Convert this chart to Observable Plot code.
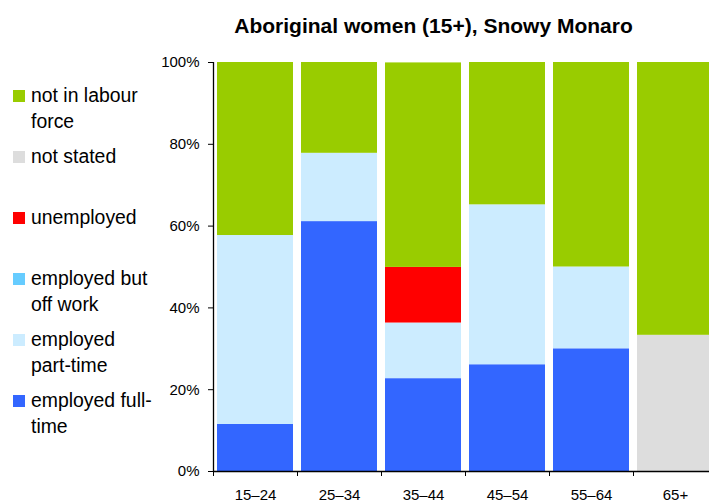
<!DOCTYPE html>
<html>
<head>
<meta charset="utf-8">
<script src="https://cdn.jsdelivr.net/npm/d3@7"></script>
<script src="https://cdn.jsdelivr.net/npm/@observablehq/plot@0.6"></script>
<style>
  html, body { margin: 0; padding: 0; background: #fff; }
  #wrap { position: relative; width: 709px; height: 504px; overflow: hidden; font-family: "Liberation Sans", Arial, sans-serif; color: #000; }
  #title { position: absolute; left: 158px; width: 551px; top: 15px; text-align: center; font-weight: bold; font-size: 21px; line-height: 21px; white-space: nowrap; }
  #chart { position: absolute; left: 0; top: 0; }
  #legend { position: absolute; left: 0; top: 82px; width: 180px; }
  .item { position: relative; height: 61px; }
  .sw { position: absolute; left: 13px; top: 7.5px; width: 12px; height: 12px; }
  .lab { position: absolute; left: 31px; top: 0; font-size: 19.4px; line-height: 26px; white-space: nowrap; }
</style>
</head>
<body>
<div id="wrap">
  <div id="chart"></div>
  <div id="title"></div>
  <div id="legend"></div>
</div>
<script>
const title = "Aboriginal women (15+), Snowy Monaro";
const ages = ["15–24", "25–34", "35–44", "45–54", "55–64", "65+"];
const yTicks = [0, 20, 40, 60, 80, 100];

// series (bottom to top), values in percent
const series = ["employed full-time", "employed part-time", "employed but off work", "unemployed", "not stated", "not in labour force"];
const colors = ["#3366FF", "#CCECFF", "#66CCFF", "#FF0000", "#DDDDDD", "#99CC00"];
const employedFullTime   = [11.5, 61.1, 22.7, 26.1, 30.0, 0];
const employedPartTime   = [46.2, 16.7, 13.6, 39.1, 20.0, 0];
const employedOffWork    = [0, 0, 0, 0, 0, 0];
const unemployed         = [0, 0, 13.6, 0, 0, 0];
const notStated          = [0, 0, 0, 0, 0, 33.3];
const notInLabourForce   = [42.3, 22.2, 50.0, 34.8, 50.0, 66.7];

// legend order (top to bottom) with line breaks as in the original
const legendItems = [
  ["not in labour force", ["not in labour", "force"]],
  ["not stated", ["not stated"]],
  ["unemployed", ["unemployed"]],
  ["employed but off work", ["employed but", "off work"]],
  ["employed part-time", ["employed", "part-time"]],
  ["employed full-time", ["employed full-", "time"]]
];

const valuesBySeries = [employedFullTime, employedPartTime, employedOffWork, unemployed, notStated, notInLabourForce];
const data = [];
series.forEach((s, i) => {
  ages.forEach((a, j) => {
    const v = valuesBySeries[i][j];
    if (v > 0) data.push({age: a, series: s, value: v});
  });
});

const step = (717 - 213) / ages.length;

const plot = Plot.plot({
  width: 709,
  height: 504,
  marginTop: 62,
  marginBottom: 33,
  marginLeft: 213,
  marginRight: 0,
  style: {fontFamily: "'Liberation Sans', Arial, sans-serif", fontSize: "15px", color: "#000", background: "transparent", overflow: "hidden"},
  x: {domain: ages, range: [213, 717], paddingInner: 0.09, paddingOuter: 0.045, axis: null},
  y: {domain: [0, 100], axis: null},
  color: {domain: series, range: colors},
  marks: [
    Plot.barY(data, Plot.stackY({x: "age", y: "value", fill: "series", order: series})),
    Plot.ruleY([0], {stroke: "#000", strokeWidth: 1.3}),
    Plot.ruleX([ages[0]], {dx: -step / 2, stroke: "#000", strokeWidth: 1.3}),
    Plot.axisY({ticks: yTicks, tickFormat: d => d + "%", tickSize: 5, tickPadding: 9, label: null, stroke: "#000", fontSize: 15, fill: "#000"}),
    Plot.axisX({tickSize: 5, tickFormat: () => "", label: null, dx: -step / 2, stroke: "#000"}),
    Plot.axisX({tickSize: 0, tickPadding: 18, label: null, fontSize: 15, fill: "#000"})
  ]
});
document.getElementById("chart").appendChild(plot);

document.getElementById("title").textContent = title;

const legend = document.getElementById("legend");
legendItems.forEach(([name, lines]) => {
  const item = document.createElement("div");
  item.className = "item";
  const sw = document.createElement("div");
  sw.className = "sw";
  sw.style.background = colors[series.indexOf(name)];
  const lab = document.createElement("div");
  lab.className = "lab";
  lines.forEach((l, k) => {
    if (k) lab.appendChild(document.createElement("br"));
    lab.appendChild(document.createTextNode(l));
  });
  item.appendChild(sw);
  item.appendChild(lab);
  legend.appendChild(item);
});
</script>
</body>
</html>
